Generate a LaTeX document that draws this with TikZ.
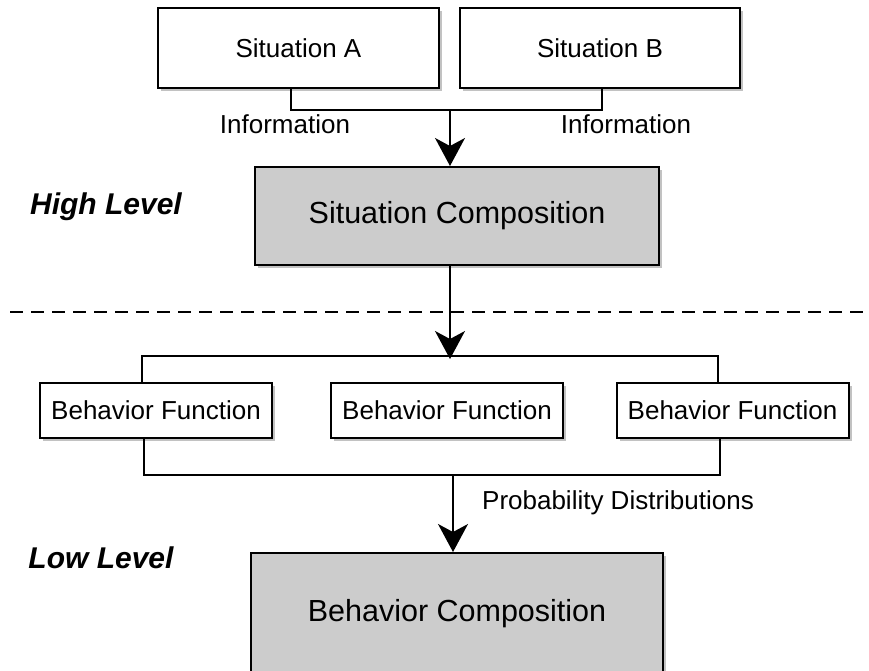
\documentclass[tikz,border=0pt]{standalone}
\usepackage{fontspec}
\setmainfont{Liberation Sans}
\usetikzlibrary{arrows.meta,positioning,shadows}
\tikzstyle{plainbox}=[draw,fill=white,line width=2pt,inner sep=0pt,
  drop shadow={shadow xshift=3pt,shadow yshift=-3pt,fill=black!60,opacity=0.4},
  font=\fontsize{26}{30}\selectfont]
\tikzstyle{compbox}=[plainbox,fill=black!20,font=\fontsize{30.5}{36}\selectfont]
\tikzstyle{wire}=[line width=1.5pt]
\tikzstyle{flow}=[wire,-{Stealth[length=28pt,width=30pt,inset=8pt]}]
\tikzstyle{levelname}=[font=\fontsize{30}{36}\selectfont\bfseries\itshape]
\tikzstyle{wirelabel}=[font=\fontsize{26}{30}\selectfont]

\begin{document}
\begin{tikzpicture}[x=1pt,y=-1pt]
    \useasboundingbox (0,0) rectangle (869,671);
    \clip (0,0) rectangle (869,671);

    % high level
    \node [plainbox,minimum width=281,minimum height=80] (sitA) at (298.5,48) {Situation A};
    \node [plainbox,minimum width=280,minimum height=80] (sitB) at (600,48) {Situation B};
    \node [compbox,minimum width=404,minimum height=98] (sitComp) at (457,216) {Situation Composition};
    \node [levelname] (high) at (106,207) {High Level};

    \coordinate (infoJoin) at (450,110);
    \draw [wire] ([xshift=-7.5]sitA.south) |- (infoJoin) -| ([xshift=2]sitB.south);
    \draw [flow] (infoJoin) -- (infoJoin |- sitComp.north);
    \node [wirelabel] (infoA) at (285,124) {Information};
    \node [wirelabel] (infoB) at (626,124) {Information};

    % border between the levels
    \draw [line width=2pt,dash pattern=on 13pt off 8pt] (10,312) -- (880,312);

    % low level
    \node [plainbox,minimum width=232,minimum height=55] (funcA) at (156,410) {Behavior Function};
    \node [plainbox,minimum width=232,minimum height=55] (funcB) at (447,410) {Behavior Function};
    \node [plainbox,minimum width=232,minimum height=55] (funcC) at (732.5,410) {Behavior Function};
    \node [compbox,minimum width=412,minimum height=150,text depth=36pt] (behComp) at (457,628) {Behavior Composition};
    \node [levelname] (low) at (101,558) {Low Level};

    \coordinate (splitJoin) at (450,356);
    \draw [flow] ([xshift=-7]sitComp.south) -- ([yshift=-3]splitJoin);
    \draw [wire] ([xshift=-14]funcA.north) |- (splitJoin) -| ([xshift=-14.5]funcC.north);

    \coordinate (probJoin) at (453,475);
    \draw [wire] ([xshift=-12]funcA.south) |- (probJoin) -| ([xshift=-12.5]funcC.south);
    \draw [flow] (probJoin) -- (probJoin |- behComp.north);
    \node [wirelabel] (prob) at (618,503) {Probability Distributions};
\end{tikzpicture}
\end{document}
